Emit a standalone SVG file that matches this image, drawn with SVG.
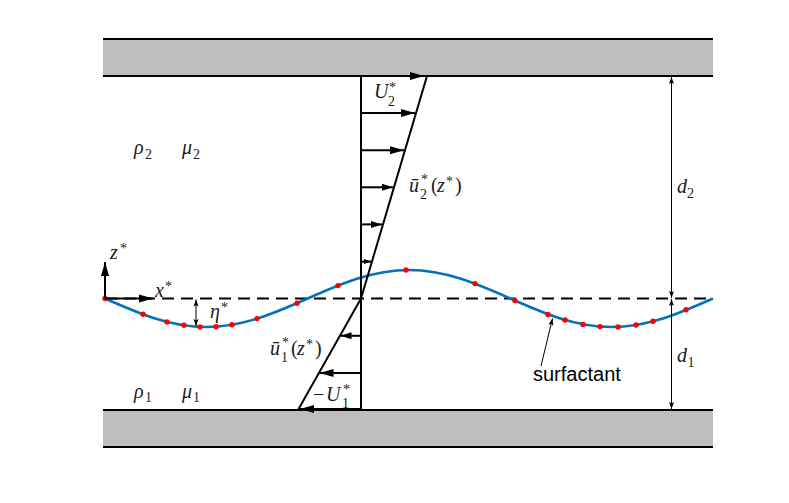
<svg xmlns="http://www.w3.org/2000/svg" width="789" height="503" viewBox="0 0 789 503">
<style>
.wall{fill:#bebebe}
.wb{stroke:#000;stroke-width:2.2}
.ln{stroke:#000;stroke-width:2;fill:none}
.thin{stroke:#000;stroke-width:1;fill:none}
.dash{stroke:#000;stroke-width:2;stroke-dasharray:12 7;fill:none}
.wave{stroke:#0072bd;stroke-width:2.5;fill:none}
.dot{fill:#ff0000}
.m{font-family:"Liberation Serif","DejaVu Serif",serif;font-size:20px;font-style:italic;fill:#1a1a1a}
.s{font-family:"Liberation Serif","DejaVu Serif",serif;font-size:14px;font-style:normal;fill:#1a1a1a}
.u{font-style:normal}
.sans{font-family:"Liberation Sans",Arial,sans-serif;font-size:20px;fill:#000}
</style>
<defs>
<marker id="aL" markerUnits="userSpaceOnUse" markerWidth="14" markerHeight="8" refX="14" refY="4" orient="auto" overflow="visible"><path d="M0,0 L14,4 L0,8 z" fill="#000"/></marker>
<marker id="aM" markerUnits="userSpaceOnUse" markerWidth="11" markerHeight="7" refX="11" refY="3.5" orient="auto" overflow="visible"><path d="M0,0 L11,3.5 L0,7 z" fill="#000"/></marker>
<marker id="aS" markerUnits="userSpaceOnUse" markerWidth="7" markerHeight="5" refX="7" refY="2.5" orient="auto" overflow="visible"><path d="M0,0 L7,2.5 L0,5 z" fill="#000"/></marker>
<marker id="aD" markerUnits="userSpaceOnUse" markerWidth="7" markerHeight="5" refX="7" refY="2.5" orient="auto" overflow="visible"><path d="M0,0 L7,2.5 L0,5 L1.5,2.5 z" fill="#000"/></marker>
<marker id="aDs" markerUnits="userSpaceOnUse" markerWidth="7" markerHeight="5" refX="0" refY="2.5" orient="auto" overflow="visible"><path d="M7,0 L0,2.5 L7,5 L5.5,2.5 z" fill="#000"/></marker>
</defs>

<g id="top-wall">
<rect class="wall" x="103" y="39" width="610" height="37"/>
<line class="wb" x1="103" y1="39" x2="713" y2="39"/>
<line class="wb" x1="103" y1="76" x2="713" y2="76"/>
</g>
<g id="bottom-wall">
<rect class="wall" x="103" y="410" width="610" height="37"/>
<line class="wb" x1="103" y1="410" x2="713" y2="410"/>
<line class="wb" x1="103" y1="447" x2="713" y2="447"/>
</g>

<g id="interface">
<line class="dash" x1="105" y1="298.5" x2="713" y2="298.5"/>
<path class="wave" d="M105,298.5 C138.04,313.1 169.66,327 206.33,327 C243,327 274.62,313.1 307.66,298.5 C340.7,283.9 372.32,270 408.99,270 C445.66,270 477.28,283.9 510.32,298.5 C543.36,313.1 574.98,327 611.65,327 C648.32,327 679.94,313.1 712.98,298.5"/>
</g>
<g id="surfactant-dots">
<circle class="dot" cx="105" cy="298.5" r="2.7"/>
<circle class="dot" cx="143" cy="314.3" r="2.7"/>
<circle class="dot" cx="167" cy="321.9" r="2.7"/>
<circle class="dot" cx="184" cy="325.3" r="2.7"/>
<circle class="dot" cx="200" cy="326.9" r="2.7"/>
<circle class="dot" cx="216" cy="326.7" r="2.7"/>
<circle class="dot" cx="232" cy="324.8" r="2.7"/>
<circle class="dot" cx="257" cy="318.6" r="2.7"/>
<circle class="dot" cx="297" cy="303.2" r="2.7"/>
<circle class="dot" cx="338" cy="285.6" r="2.7"/>
<circle class="dot" cx="406" cy="270" r="2.7"/>
<circle class="dot" cx="475" cy="283.6" r="2.7"/>
<circle class="dot" cx="515" cy="300.6" r="2.7"/>
<circle class="dot" cx="548" cy="314.5" r="2.7"/>
<circle class="dot" cx="565" cy="320" r="2.7"/>
<circle class="dot" cx="583" cy="324.4" r="2.7"/>
<circle class="dot" cx="600" cy="326.6" r="2.7"/>
<circle class="dot" cx="618" cy="326.9" r="2.7"/>
<circle class="dot" cx="636" cy="325" r="2.7"/>
<circle class="dot" cx="653" cy="321.2" r="2.7"/>
<circle class="dot" cx="686" cy="309.7" r="2.7"/>
</g>

<g id="connectors">
<line class="ln" x1="361" y1="76" x2="361" y2="410"/>
<line class="ln" x1="427" y1="76" x2="361" y2="298.5"/>
<line class="ln" x1="361" y1="298.5" x2="298" y2="410"/>
<line class="ln" x1="361" y1="76" x2="424" y2="76" marker-end="url(#aL)"/>
<line class="ln" x1="361" y1="113.1" x2="415" y2="113.1" marker-end="url(#aL)"/>
<line class="ln" x1="361" y1="150.2" x2="404" y2="150.2" marker-end="url(#aL)"/>
<line class="ln" x1="361" y1="187.3" x2="393" y2="187.3" marker-end="url(#aM)"/>
<line class="ln" x1="361" y1="224.4" x2="382" y2="224.4" marker-end="url(#aM)"/>
<line class="ln" x1="361" y1="261.6" x2="371" y2="261.6" marker-end="url(#aS)"/>
<line class="ln" x1="361" y1="335.8" x2="340.5" y2="335.8" marker-end="url(#aM)"/>
<line class="ln" x1="361" y1="372.9" x2="319.5" y2="372.9" marker-end="url(#aL)"/>
<line class="ln" x1="361" y1="409" x2="300" y2="409" marker-end="url(#aL)"/>
<line class="ln" x1="105" y1="298.5" x2="105" y2="262" marker-end="url(#aL)"/>
<line class="ln" x1="105" y1="298.5" x2="153" y2="298.5" marker-end="url(#aL)"/>
<line class="thin" x1="196" y1="299.5" x2="196" y2="326" marker-start="url(#aDs)" marker-end="url(#aD)"/>
<line class="thin" x1="671.5" y1="77" x2="671.5" y2="298" marker-start="url(#aDs)" marker-end="url(#aD)"/>
<line class="thin" x1="671.5" y1="299" x2="671.5" y2="409" marker-start="url(#aDs)" marker-end="url(#aD)"/>
<line class="thin" x1="541" y1="366" x2="552.5" y2="318.5" marker-end="url(#aD)"/>
</g>

<g id="labels">
<text class="m" x="374" y="98">U</text><text class="s" x="389" y="92">*</text><text class="s" x="388" y="106">2</text>
<text class="m" x="409" y="192">ū</text><text class="s" x="421" y="184">*</text><text class="s" x="420" y="199">2</text><text class="m u" x="431" y="192">(</text><text class="m" x="437" y="192">z</text><text class="s" x="446" y="186">*</text><text class="m u" x="455" y="192">)</text>
<text class="m" x="270" y="355">ū</text><text class="s" x="282" y="347">*</text><text class="s" x="281" y="362">1</text><text class="m u" x="291" y="355">(</text><text class="m" x="297" y="355">z</text><text class="s" x="306" y="349">*</text><text class="m u" x="315" y="355">)</text>
<text class="m u" x="313" y="401">−</text><text class="m" x="326" y="401">U</text><text class="s" x="343" y="394">*</text><text class="s" x="342" y="408">1</text>
<text class="m" x="134" y="154">ρ</text><text class="s" x="145" y="159">2</text>
<text class="m" x="182" y="154">μ</text><text class="s" x="193" y="159">2</text>
<text class="m" x="134" y="398">ρ</text><text class="s" x="145" y="402">1</text>
<text class="m" x="182" y="398">μ</text><text class="s" x="193" y="402">1</text>
<text class="m" x="110" y="259">z</text><text class="s" x="120" y="253">*</text>
<text class="m" x="155" y="297">x</text><text class="s" x="165" y="291">*</text>
<text class="m" x="210" y="318">η</text><text class="s" x="221" y="312">*</text>
<text class="m" x="677" y="193">d</text><text class="s" x="687" y="198">2</text>
<text class="m" x="677" y="362">d</text><text class="s" x="687.5" y="367">1</text>
<text class="sans" x="533" y="381">surfactant</text>
</g>
</svg>
